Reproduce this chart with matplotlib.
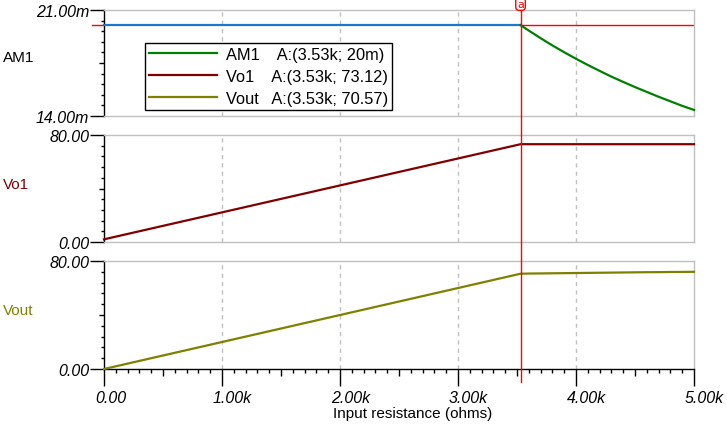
import matplotlib
matplotlib.use("Agg")
import matplotlib.pyplot as plt
from matplotlib.ticker import FixedLocator, FuncFormatter
from matplotlib.lines import Line2D
import matplotlib.transforms as mtransforms

# ---------------- data ----------------
resistance_k = [0.0, 3.53, 3.6, 3.7, 3.8, 3.9, 4.0, 4.1, 4.2, 4.3, 4.4, 4.5, 4.6, 4.7, 4.8, 4.9, 5.0]  # kOhm
am1_m = [20.0, 20.0, 19.64, 19.14, 18.66, 18.21, 17.78, 17.37, 16.98, 16.6, 16.25, 15.91,
         15.59, 15.27, 14.97, 14.67, 14.4]                                                          # mA
vo1 = [2.0, 73.12, 73.12, 73.12, 73.12, 73.12, 73.12, 73.12, 73.12, 73.12, 73.12, 73.12,
       73.12, 73.12, 73.12, 73.12, 73.12]                                                           # V
vout = [0.0, 70.57, 70.7, 70.8, 70.9, 71.0, 71.1, 71.2, 71.3, 71.4, 71.5, 71.6,
        71.7, 71.75, 71.85, 71.9, 72.0]                                                             # V
cursor_k = 3.53
cursor_idx = 1
legend_labels = ["AM1    A:(3.53k; 20m)", "Vo1    A:(3.53k; 73.12)", "Vout   A:(3.53k; 70.57)"]
panel_names = ["AM1", "Vo1", "Vout"]
x_ticks = [0, 1, 2, 3, 4, 5]
x_ticklabels = ["0.00", "1.00k", "2.00k", "3.00k", "4.00k", "5.00k"]

GREEN = "#008000"
DRED = "#800000"
OLIVE = "#808000"
BLUE = "#1a78d2"
RED = "#ff0000"
GRAY = "#c0c0c0"

plt.rcParams["font.family"] = ["Liberation Sans", "DejaVu Sans"]

W, H = 727, 427
fig = plt.figure(figsize=(W / 100, H / 100), dpi=100)

def fx(px):
    return px / W

def fy(py):
    return 1 - py / H

left, right = 104, 694
panels_px = [(11, 117), (136, 243), (262, 370)]
axes = []
for top, bot in panels_px:
    ax = fig.add_axes([fx(left), fy(bot), fx(right - left), (bot - top) / H])
    axes.append(ax)
ax1, ax2, ax3 = axes

tick_font = dict(family="Liberation Sans", style="italic", size=11.5)
x_major = [0, 0.5, 1, 1.5, 2, 2.5, 3, 3.5, 4, 4.5, 5]

def style_axis(ax, ymin, ymax, fmt, is_bottom):
    ax.set_xlim(0, 5)
    ax.set_ylim(ymin, ymax)
    for s in ["top", "right"]:
        ax.spines[s].set_color(GRAY)
    ax.spines["bottom"].set_color("black" if is_bottom else GRAY)
    ax.spines["left"].set_color("black")
    for s in ax.spines.values():
        s.set_linewidth(1)
    mid = (ymin + ymax) / 2
    ax.yaxis.set_major_locator(FixedLocator([ymin, mid, ymax]))
    ax.yaxis.set_major_formatter(FuncFormatter(lambda v, p: fmt(v) if v in (ymin, ymax) else ""))
    step = (ymax - ymin) / 10
    ax.yaxis.set_minor_locator(FixedLocator([ymin + i * step for i in range(1, 10) if i != 5]))
    ax.tick_params(axis="y", which="major", length=10, width=1, pad=0.5, direction="out", color="black")
    ax.tick_params(axis="y", which="minor", length=2.5, width=1, direction="out", color="black")
    for lab in ax.get_yticklabels():
        lab.set(**tick_font)
    if is_bottom:
        ax.xaxis.set_major_locator(FixedLocator(x_major))
        ax.xaxis.set_major_formatter(FuncFormatter(
            lambda v, p: x_ticklabels[x_ticks.index(v)] if v in x_ticks else ""))
        ax.xaxis.set_minor_locator(FixedLocator([i / 10 for i in range(51) if i % 5 != 0]))
        ax.tick_params(axis="x", which="major", length=12, width=1, pad=3, direction="out")
        ax.tick_params(axis="x", which="minor", length=3, width=1, direction="out")
        offset = mtransforms.ScaledTranslation(-9 / 100, 0, fig.dpi_scale_trans)
        for lab in ax.get_xticklabels():
            lab.set(**tick_font)
            lab.set_ha("left")
            lab.set_transform(lab.get_transform() + offset)
    else:
        ax.xaxis.set_major_locator(FixedLocator([]))
        ax.xaxis.set_minor_locator(FixedLocator([]))
    for xv in x_ticks[1:-1]:
        ax.axvline(xv, color=GRAY, lw=1, ls=(0, (3, 3)), zorder=0.5)

style_axis(ax1, 14.0, 21.0, lambda v: f"{v:.2f}m", False)
style_axis(ax2, 0.0, 80.0, lambda v: f"{v:.2f}", False)
style_axis(ax3, 0.0, 80.0, lambda v: f"{v:.2f}", True)

for ax in axes:
    ticks = ax.yaxis.get_major_ticks()
    if len(ticks) == 3:
        ticks[1].tick1line.set_markersize(5 * 0.72)
for t, v in zip(ax3.xaxis.get_major_ticks(), x_major):
    if v not in x_ticks:
        t.tick1line.set_markersize(7 * 0.72)

# ---------------- data lines ----------------
lw = 1.6
ax1.plot(resistance_k[:cursor_idx + 1], am1_m[:cursor_idx + 1], color=BLUE, lw=lw, zorder=3)
l_am1, = ax1.plot(resistance_k[cursor_idx:], am1_m[cursor_idx:], color=GREEN, lw=lw, zorder=3)
l_vo1, = ax2.plot(resistance_k, vo1, color=DRED, lw=lw, zorder=3)
l_vout, = ax3.plot(resistance_k, vout, color=OLIVE, lw=lw, zorder=3)
for ax in axes:
    for ln in ax.lines:
        ln.set_clip_on(False)

# ---------------- cursor ----------------
ax1.plot([cursor_k, 5], [am1_m[cursor_idx]] * 2, color=RED, lw=1, zorder=2.5)
trans_ay = mtransforms.blended_transform_factory(ax1.transAxes, ax1.transData)
ax1.add_line(Line2D([-12 / (right - left), 0], [am1_m[cursor_idx]] * 2, color=RED, lw=1,
                    transform=trans_ay, clip_on=False))
trans_xf = mtransforms.blended_transform_factory(ax3.transData, fig.transFigure)
fig.add_artist(Line2D([cursor_k, cursor_k], [fy(383), fy(9)], color=RED, lw=1, transform=trans_xf, zorder=5))
fig.text(cursor_k, fy(5), "a", transform=trans_xf, ha="center", va="center", color=RED,
         fontsize=8, family="DejaVu Sans",
         bbox=dict(boxstyle="round,pad=0.12,rounding_size=0.3", fc="white", ec=RED, lw=1), zorder=6)

# ---------------- panel names ----------------
name_colors = ["black", DRED, OLIVE]
name_y = [58, 185, 311]
for nm, c, yy in zip(panel_names, name_colors, name_y):
    fig.text(fx(3), fy(yy), nm, color=c, fontsize=11, ha="left", va="center", family="Liberation Sans")

# ---------------- x label ----------------
fig.text(fx(413), fy(414), "Input resistance (ohms)", ha="center", va="center", fontsize=11,
         family="Liberation Sans")

# ---------------- legend ----------------
leg = ax1.legend([l_am1, l_vo1, l_vout], legend_labels, loc="upper left",
                 bbox_to_anchor=(fx(145), fy(44)), bbox_transform=fig.transFigure,
                 frameon=True, fancybox=False, edgecolor="black", framealpha=1,
                 fontsize=11.8, handlelength=4.15, handletextpad=0.55, labelspacing=0.42,
                 borderpad=0.25, borderaxespad=0)
leg.get_frame().set_linewidth(1)
leg.set_zorder(10)

fig.savefig("out.png", dpi=100)
